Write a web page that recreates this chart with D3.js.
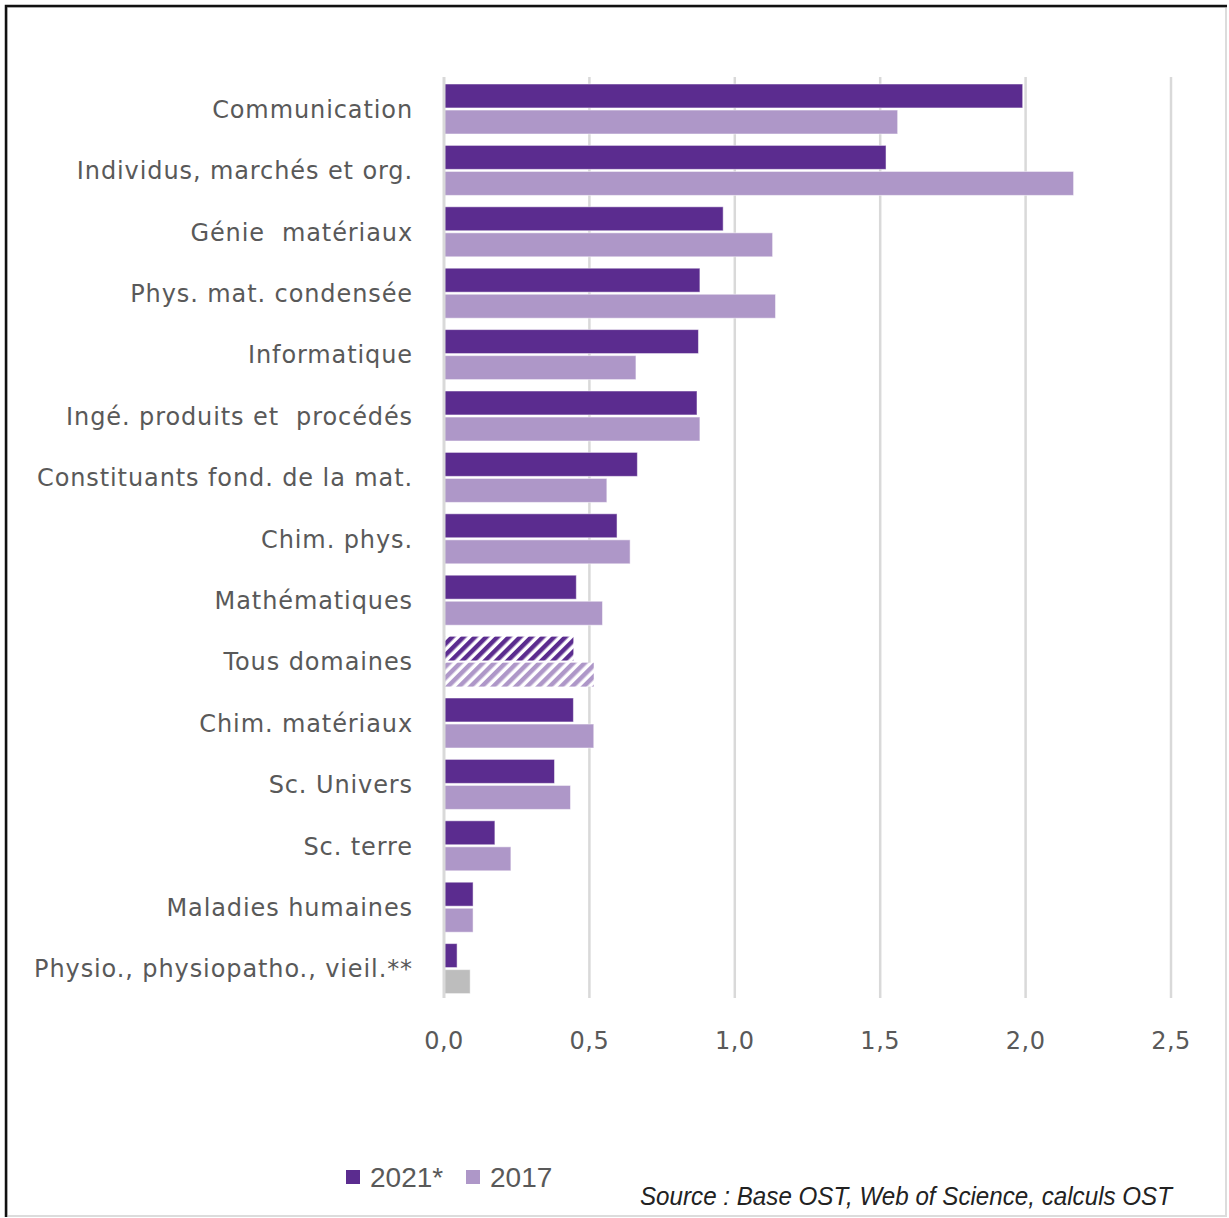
<!DOCTYPE html>
<html>
<head>
<meta charset="utf-8">
<script src="https://cdn.jsdelivr.net/npm/d3@7"></script>
<style>
  html, body { margin: 0; padding: 0; background: #fff; }
  svg { display: block; }
</style>
</head>
<body>
<svg id="chart" width="1229" height="1218"></svg>
<script>
// categories, top to bottom
let categories = [
    'Communication',
    'Individus, marchés et org.',
    'Génie  matériaux',
    'Phys. mat. condensée',
    'Informatique',
    'Ingé. produits et  procédés',
    'Constituants fond. de la mat.',
    'Chim. phys.',
    'Mathématiques',
    'Tous domaines',
    'Chim. matériaux',
    'Sc. Univers',
    'Sc. terre',
    'Maladies humaines',
    'Physio., physiopatho., vieil.**'
];
let series = ['2021*', '2017'];
let values2021 = [1.99, 1.52, 0.96, 0.88, 0.875, 0.87, 0.665, 0.595, 0.455, 0.445, 0.445, 0.38, 0.175, 0.10, 0.045];
let values2017 = [1.56, 2.165, 1.13, 1.14, 0.66, 0.88, 0.56, 0.64, 0.545, 0.515, 0.515, 0.435, 0.23, 0.10, 0.09];
let ticks = [0, 0.5, 1.0, 1.5, 2.0, 2.5];

let dark = '#5b2c8f';
let light = '#ae97c8';
let grey = '#bdbdbd';
let textCol = '#595959';
let font = "'DejaVu Sans', sans-serif";

const svg = d3.select('#chart');

// frame
svg.append('rect')
    .attr('x', 7).attr('y', 7).attr('width', 1219).attr('height', 1209)
    .attr('fill', '#fff').attr('stroke', '#dcdcdc').attr('stroke-width', 2);
svg.append('path')
    .attr('d', 'M6,1217 L6,6 L1227,6')
    .attr('fill', 'none').attr('stroke', '#111').attr('stroke-width', 2.5);

// patterns for "Tous domaines"
const defs = svg.append('defs');
function hatch(id, col) {
    const p = defs.append('pattern')
        .attr('id', id)
        .attr('patternUnits', 'userSpaceOnUse')
        .attr('width', 8).attr('height', 8)
        .attr('patternTransform', 'rotate(45)');
    p.append('rect').attr('width', 8).attr('height', 8).attr('fill', '#fff');
    p.append('rect').attr('width', 4.5).attr('height', 8).attr('fill', col);
}
hatch('hatchDark', dark);
hatch('hatchLight', light);

const x = d3.scaleLinear().domain([0, 2.5]).range([444, 1171]);
const y = d3.scaleBand().domain(categories).range([77, 998]).padding(0);
const ySub = d3.scaleBand().domain(series).range([7, 57]).paddingInner(0.08);

// gridlines
svg.append('g')
    .selectAll('line')
    .data(ticks.slice(1))
    .join('line')
    .attr('x1', d => x(d)).attr('x2', d => x(d))
    .attr('y1', 77).attr('y2', 998)
    .attr('stroke', '#d9d9d9').attr('stroke-width', 2.5);

let rows = categories.map((c, i) => ({cat: c, v21: values2021[i], v17: values2017[i]}));

function fillFor(d, s) {
    if (d.cat === 'Tous domaines') return s === '2021*' ? 'url(#hatchDark)' : 'url(#hatchLight)';
    if (s === '2017' && d.cat.startsWith('Physio')) return grey;
    return s === '2021*' ? dark : light;
}

const bars = svg.append('g');
rows.forEach(d => {
    [['2021*', d.v21], ['2017', d.v17]].forEach(([s, v]) => {
        bars.append('rect')
            .attr('x', x(0))
            .attr('y', y(d.cat) + ySub(s))
            .attr('width', x(v) - x(0))
            .attr('height', ySub.bandwidth())
            .attr('fill', fillFor(d, s))
            .attr('stroke', d.cat === 'Tous domaines' ? 'none' : '#fff')
            .attr('stroke-opacity', 0.5)
            .attr('stroke-width', 1);
    });
});

// baseline axis
svg.append('line')
    .attr('x1', x(0)).attr('x2', x(0))
    .attr('y1', 77).attr('y2', 998)
    .attr('stroke', '#d9d9d9').attr('stroke-width', 3);

// category labels
svg.append('g')
    .selectAll('text')
    .data(categories)
    .join('text')
    .attr('x', 413)
    .attr('y', d => y(d) + y.bandwidth() / 2 + 3)
    .attr('text-anchor', 'end')
    .attr('dominant-baseline', 'middle')
    .attr('font-family', font)
    .attr('font-size', 24)
    .attr('letter-spacing', 0.9)
    .attr('fill', textCol)
    .style('white-space', 'pre')
    .text(d => d);

// x tick labels
const fmt = d => d3.format('.1f')(d).replace('.', ',');
svg.append('g')
    .selectAll('text')
    .data(ticks)
    .join('text')
    .attr('x', d => x(d))
    .attr('y', 1049)
    .attr('text-anchor', 'middle')
    .attr('font-family', font)
    .attr('font-size', 24)
    .attr('letter-spacing', 0.5)
    .attr('fill', textCol)
    .text(fmt);

// legend
const leg = svg.append('g').attr('font-family', "'Liberation Sans', sans-serif");
let legX = [346, 466];
series.forEach((s, i) => {
    leg.append('rect')
        .attr('x', legX[i]).attr('y', 1170)
        .attr('width', 14).attr('height', 14)
        .attr('fill', i === 0 ? dark : light);
    leg.append('text')
        .attr('x', legX[i] + 24).attr('y', 1187)
        .attr('font-size', 28)
        .attr('fill', textCol)
        .text(s);
});

// source
svg.append('text')
    .attr('x', 640).attr('y', 1205)
    .attr('font-family', "'Liberation Sans', sans-serif")
    .attr('font-style', 'italic')
    .attr('font-size', 25)
    .attr('textLength', 532)
    .attr('lengthAdjust', 'spacingAndGlyphs')
    .attr('fill', '#222')
    .text('Source : Base OST, Web of Science, calculs OST');
</script>
</body>
</html>
